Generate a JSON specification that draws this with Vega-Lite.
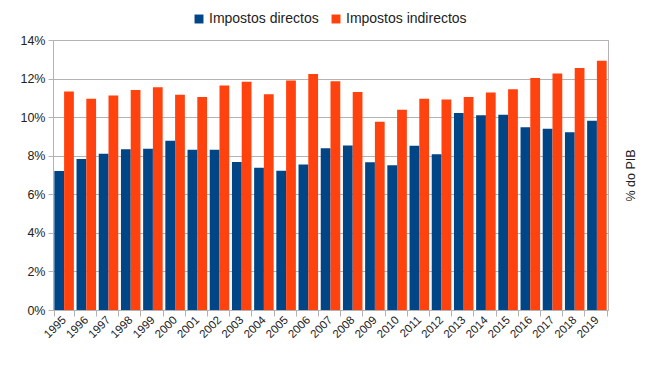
{
  "$schema": "https://vega.github.io/schema/vega-lite/v6.json",
  "width": 555,
  "height": 270,
  "autosize": {"type": "none"},
  "padding": {"left": 53, "top": 40, "right": 42, "bottom": 55},
  "background": "white",
  "config": {
    "font": "Liberation Sans",
    "view": {"stroke": "#b3b3b3", "strokeWidth": 1},
    "axis": {"labelColor": "#333333", "titleColor": "#222222", "domainColor": "#b3b3b3", "tickColor": "#b3b3b3", "gridColor": "#b3b3b3"}
  },
  "data": {
    "values": [
      {"ano": "1995", "tipo": "Impostos directos", "valor": 7.21}, {"ano": "1995", "tipo": "Impostos indirectos", "valor": 11.33},
      {"ano": "1996", "tipo": "Impostos directos", "valor": 7.83}, {"ano": "1996", "tipo": "Impostos indirectos", "valor": 10.95},
      {"ano": "1997", "tipo": "Impostos directos", "valor": 8.10}, {"ano": "1997", "tipo": "Impostos indirectos", "valor": 11.12},
      {"ano": "1998", "tipo": "Impostos directos", "valor": 8.34}, {"ano": "1998", "tipo": "Impostos indirectos", "valor": 11.41},
      {"ano": "1999", "tipo": "Impostos directos", "valor": 8.36}, {"ano": "1999", "tipo": "Impostos indirectos", "valor": 11.55},
      {"ano": "2000", "tipo": "Impostos directos", "valor": 8.78}, {"ano": "2000", "tipo": "Impostos indirectos", "valor": 11.16},
      {"ano": "2001", "tipo": "Impostos directos", "valor": 8.31}, {"ano": "2001", "tipo": "Impostos indirectos", "valor": 11.05},
      {"ano": "2002", "tipo": "Impostos directos", "valor": 8.31}, {"ano": "2002", "tipo": "Impostos indirectos", "valor": 11.64},
      {"ano": "2003", "tipo": "Impostos directos", "valor": 7.67}, {"ano": "2003", "tipo": "Impostos indirectos", "valor": 11.84},
      {"ano": "2004", "tipo": "Impostos directos", "valor": 7.38}, {"ano": "2004", "tipo": "Impostos indirectos", "valor": 11.19},
      {"ano": "2005", "tipo": "Impostos directos", "valor": 7.22}, {"ano": "2005", "tipo": "Impostos indirectos", "valor": 11.90},
      {"ano": "2006", "tipo": "Impostos directos", "valor": 7.55}, {"ano": "2006", "tipo": "Impostos indirectos", "valor": 12.24},
      {"ano": "2007", "tipo": "Impostos directos", "valor": 8.39}, {"ano": "2007", "tipo": "Impostos indirectos", "valor": 11.86},
      {"ano": "2008", "tipo": "Impostos directos", "valor": 8.53}, {"ano": "2008", "tipo": "Impostos indirectos", "valor": 11.31},
      {"ano": "2009", "tipo": "Impostos directos", "valor": 7.66}, {"ano": "2009", "tipo": "Impostos indirectos", "valor": 9.76},
      {"ano": "2010", "tipo": "Impostos directos", "valor": 7.50}, {"ano": "2010", "tipo": "Impostos indirectos", "valor": 10.38},
      {"ano": "2011", "tipo": "Impostos directos", "valor": 8.52}, {"ano": "2011", "tipo": "Impostos indirectos", "valor": 10.95},
      {"ano": "2012", "tipo": "Impostos directos", "valor": 8.07}, {"ano": "2012", "tipo": "Impostos indirectos", "valor": 10.91},
      {"ano": "2013", "tipo": "Impostos directos", "valor": 10.21}, {"ano": "2013", "tipo": "Impostos indirectos", "valor": 11.05},
      {"ano": "2014", "tipo": "Impostos directos", "valor": 10.10}, {"ano": "2014", "tipo": "Impostos indirectos", "valor": 11.28},
      {"ano": "2015", "tipo": "Impostos directos", "valor": 10.12}, {"ano": "2015", "tipo": "Impostos indirectos", "valor": 11.45},
      {"ano": "2016", "tipo": "Impostos directos", "valor": 9.48}, {"ano": "2016", "tipo": "Impostos indirectos", "valor": 12.03},
      {"ano": "2017", "tipo": "Impostos directos", "valor": 9.40}, {"ano": "2017", "tipo": "Impostos indirectos", "valor": 12.26},
      {"ano": "2018", "tipo": "Impostos directos", "valor": 9.22}, {"ano": "2018", "tipo": "Impostos indirectos", "valor": 12.55},
      {"ano": "2019", "tipo": "Impostos directos", "valor": 9.81}, {"ano": "2019", "tipo": "Impostos indirectos", "valor": 12.93}
    ]
  },
  "mark": {"type": "bar"},
  "encoding": {
    "x": {
      "field": "ano", "type": "nominal", "title": null,
      "scale": {"paddingInner": 0.12, "paddingOuter": 0.06},
      "axis": {"labelAngle": -45, "labelAlign": "right", "labelBaseline": "middle", "labelFontSize": 11.5, "tickBand": "extent", "tickSize": 6, "labelPadding": 2, "labelColor": "#222222"}
    },
    "xOffset": {"field": "tipo", "type": "nominal", "sort": ["Impostos directos", "Impostos indirectos"]},
    "y": {
      "field": "valor", "type": "quantitative",
      "scale": {"domain": [0, 14], "nice": false},
      "axis": {
        "values": [0, 2, 4, 6, 8, 10, 12, 14],
        "labelExpr": "datum.value + '%'",
        "labelFontSize": 12.5,
        "tickSize": 5,
        "labelPadding": 3,
        "title": "% do PIB",
        "titleFontSize": 12.5,
        "titleFontWeight": "normal",
        "titleX": 577,
        "titleY": 135,
        "titleAngle": -90,
        "titleAlign": "center",
        "titleBaseline": "middle",
        "labelColor": "#222222"
      }
    },
    "color": {
      "field": "tipo", "type": "nominal",
      "scale": {"domain": ["Impostos directos", "Impostos indirectos"], "range": ["#004586", "#ff420e"]},
      "legend": {
        "title": null, "orient": "none", "legendX": 139, "legendY": -28, "direction": "horizontal",
        "symbolType": "square", "symbolSize": 80, "symbolStrokeWidth": 0,
        "labelFontSize": 14, "labelColor": "#222222", "columnPadding": 10, "labelOffset": 3
      }
    }
  }
}
